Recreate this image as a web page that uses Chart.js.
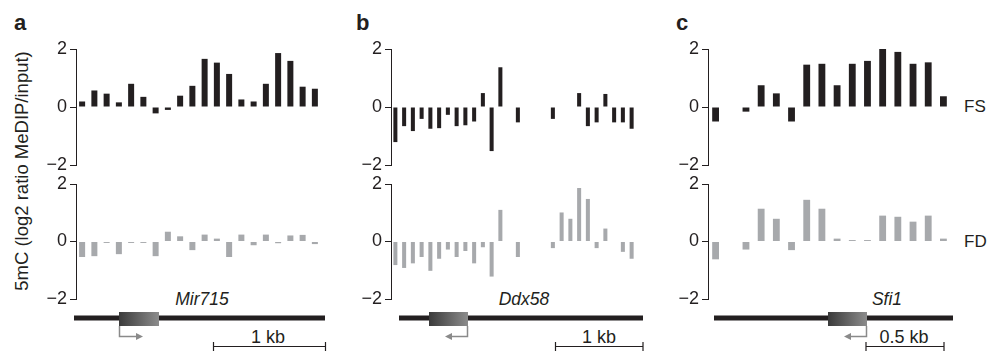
<!DOCTYPE html>
<html>
<head>
<meta charset="utf-8">
<script src="https://cdn.jsdelivr.net/npm/chart.js@4.4.1/dist/chart.umd.min.js"></script>
<style>
  body { margin: 0; background: #fff; width: 987px; height: 352px; position: relative; overflow: hidden;
         font-family: "Liberation Sans", Arial, sans-serif; color: #231f20; }
  canvas { position: absolute; }
  .txt { position: absolute; white-space: nowrap; line-height: 1; font-size: 18px; }
  .mid { transform: translate(-50%, -50%); }
  .panel { font-weight: bold; font-size: 22px; }
  .gene { font-style: italic; font-size: 17.5px; }
  .row { font-size: 17px; transform: translateY(-50%); }
  svg { position: absolute; left: 0; top: 0; }
</style>
</head>
<body>

<!-- panel letters -->
<div class="txt panel" style="left:14px; top:12px;">a</div>
<div class="txt panel" style="left:356px; top:12px;">b</div>
<div class="txt panel" style="left:676px; top:12px;">c</div>

<!-- y axis title -->
<div class="txt" style="left:22px; top:171px; font-size:18.5px; transform: translate(-50%, -50%) rotate(-90deg);">5mC (log2 ratio MeDIP/input)</div>

<!-- row labels -->
<div class="txt row" style="left:964px; top:106px;">FS</div>
<div class="txt row" style="left:964px; top:241px;">FD</div>

<!-- gene names and scale labels -->
<div class="txt gene mid" style="left:202px; top:300px;">Mir715</div>
<div class="txt gene mid" style="left:524px; top:300px;">Ddx58</div>
<div class="txt gene mid" style="left:887px; top:300px;">Sfi1</div>
<div class="txt mid" style="left:268px; top:337px;">1 kb</div>
<div class="txt mid" style="left:599px; top:337px;">1 kb</div>
<div class="txt mid" style="left:904px; top:337px;">0.5 kb</div>

<canvas id="aFS"></canvas>
<canvas id="aFD"></canvas>
<canvas id="bFS"></canvas>
<canvas id="bFD"></canvas>
<canvas id="cFS"></canvas>
<canvas id="cFD"></canvas>

<!-- gene tracks -->
<svg width="987" height="352">
  <defs>
    <linearGradient id="exon" x1="0" x2="1" y1="0" y2="0">
      <stop offset="0" stop-color="#3a3a3a"/>
      <stop offset="1" stop-color="#8c8c8c"/>
    </linearGradient>
  </defs>
  <!-- a -->
  <rect x="74" y="315.5" width="251" height="5" fill="#231f20"/>
  <rect x="119" y="312" width="40" height="14" fill="url(#exon)"/>
  <path d="M119.5 326 V336.5 H137" stroke="#8a8a8a" stroke-width="1.5" fill="none"/>
  <polygon points="136,333 143,336.5 136,340" fill="#8a8a8a"/>
  <path d="M213.5 346.5 H325.5 M213.5 342 V351 M325.5 342 V351" stroke="#231f20" stroke-width="1.2" fill="none"/>
  <!-- b -->
  <rect x="399" y="315.5" width="244" height="5" fill="#231f20"/>
  <rect x="429" y="312" width="39" height="14" fill="url(#exon)"/>
  <path d="M467.5 326 V336.5 H451" stroke="#8a8a8a" stroke-width="1.5" fill="none"/>
  <polygon points="452,333 445,336.5 452,340" fill="#8a8a8a"/>
  <path d="M555.5 346.5 H643 M555.5 342 V351 M643 342 V351" stroke="#231f20" stroke-width="1.2" fill="none"/>
  <!-- c -->
  <rect x="714" y="315.5" width="239" height="5" fill="#231f20"/>
  <rect x="828" y="312" width="39" height="14" fill="url(#exon)"/>
  <path d="M866.5 326 V336.5 H850" stroke="#8a8a8a" stroke-width="1.5" fill="none"/>
  <polygon points="851,333 844,336.5 851,340" fill="#8a8a8a"/>
  <path d="M866 346.5 H944 M866 342 V351 M944 342 V351" stroke="#231f20" stroke-width="1.2" fill="none"/>
</svg>

<script>
// Probe positions along each locus
const mirProbes = ['1','2','3','4','5','6','7','8','9','10','11','12','13','14','15','16','17','18','19','20'];
const ddxProbes = ['1','2','3','4','5','6','7','8','9','10','11','12','13','14','15','16','17','18','19','20',
                   '21','22','23','24','25','26','27','28'];
const sfiProbes = ['1','2','3','4','5','6','7','8','9','10','11','12','13','14','15','16'];

// log2 ratio MeDIP/input, FS (top) and FD (bottom)
const mirFS = [0.19, 0.57, 0.46, 0.16, 0.8, 0.35, -0.22, -0.1, 0.39, 0.73, 1.66, 1.53, 1.14, 0.26, 0.19, 0.8, 1.86, 1.59, 0.7, 0.63];
const mirFD = [-0.54, -0.51, -0.05, -0.44, -0.05, -0.05, -0.51, 0.34, 0.18, -0.3, 0.24, 0.1, -0.54, 0.24, -0.13, 0.24, -0.06, 0.21, 0.23, -0.09];

const ddxFS = [-1.21, -0.66, -0.83, -0.41, -0.75, -0.73, -0.27, -0.66, -0.63, -0.5, 0.48, -1.52, 1.37, null,
               -0.53, null, null, null, -0.41, null, null, 0.48, -0.66, -0.53, 0.45, -0.53, -0.53, -0.75];
const ddxFD = [-0.82, -0.92, -0.76, -0.54, -1.02, -0.6, -0.28, -0.54, -0.33, -0.76, -0.2, -1.22, 1.1, null,
               -0.54, null, null, null, -0.23, 1.01, 0.79, 1.86, 1.48, -0.23, 0.45, null, -0.36, -0.6];

const sfiFS = [-0.5, null, -0.16, 0.75, 0.47, -0.5, 1.46, 1.49, 0.75, 1.49, 1.59, 2.0, 1.9, 1.49, 1.54, 0.37];
const sfiFD = [-0.62, null, -0.28, 1.14, 0.79, -0.3, 1.45, 1.14, 0.1, 0.05, 0.05, 0.9, 0.86, 0.69, 0.9, 0.1];

const yTicks = [-2, 0, 2];

const INK = '#231f20';
const GREY = '#a7a9ac';
const AXIS_W = 45;
const PAD = 16;

Chart.defaults.font.family = '"Liberation Sans", Arial, sans-serif';
Chart.defaults.font.size = 18;
Chart.defaults.color = INK;

// axisX: page x of the y axis, right: page x of plot end, top/bottom: page y of +2 / -2
function makeChart(id, labels, values, color, catPct, axisX, right, top, bottom) {
    const cv = document.getElementById(id);
    const w = Math.round(right - axisX + AXIS_W);
    const h = Math.round(bottom - top + PAD * 2);
    cv.width = w;
    cv.height = h;
    cv.style.left = (axisX - AXIS_W) + 'px';
    cv.style.top = (top - PAD) + 'px';

    return new Chart(cv, {
        type: 'bar',
        data: {
            labels: labels,
            datasets: [{
                data: values,
                backgroundColor: color,
                borderWidth: 0,
                barPercentage: 1,
                categoryPercentage: catPct
            }]
        },
        options: {
            responsive: false,
            animation: false,
            layout: { padding: { left: 0, right: 0, top: PAD, bottom: PAD } },
            plugins: { legend: { display: false }, tooltip: { enabled: false } },
            scales: {
                x: { display: false },
                y: {
                    min: yTicks[0],
                    max: yTicks[yTicks.length - 1],
                    afterFit: scale => { scale.width = AXIS_W; },
                    afterBuildTicks: scale => { scale.ticks = yTicks.map(v => ({ value: v })); },
                    border: { display: true, color: INK, width: 1 },
                    grid: { drawOnChartArea: false, drawTicks: true, tickLength: 6, color: INK, lineWidth: 1 },
                    ticks: {
                        padding: 3,
                        color: INK,
                        font: { size: 18 },
                        callback: v => v < 0 ? '\u2212' + Math.abs(v) : String(v)
                    }
                }
            }
        }
    });
}

makeChart('aFS', mirProbes, mirFS, INK, 0.49, 76, 321, 49, 165);
makeChart('aFD', mirProbes, mirFD, GREY, 0.49, 76, 321, 184, 299);
makeChart('bFS', ddxProbes, ddxFS, INK, 0.46, 391, 636, 49, 165);
makeChart('bFD', ddxProbes, ddxFD, GREY, 0.46, 391, 636, 184, 299);
makeChart('cFS', sfiProbes, sfiFS, INK, 0.45, 708, 951, 49, 165);
makeChart('cFD', sfiProbes, sfiFD, GREY, 0.45, 708, 951, 184, 299);
</script>
</body>
</html>
